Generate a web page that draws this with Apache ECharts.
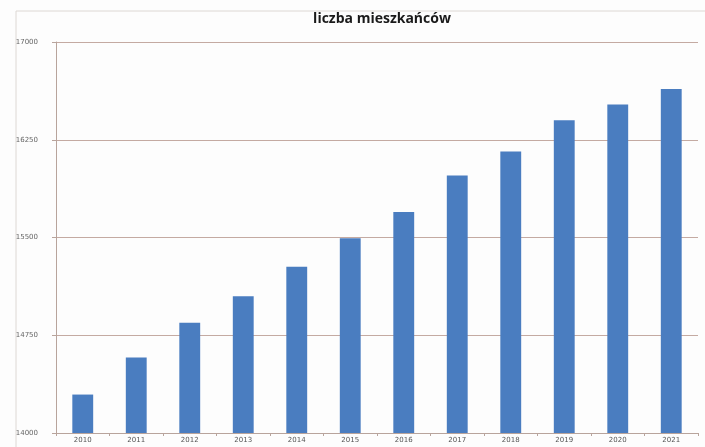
<!DOCTYPE html>
<html><head><meta charset="utf-8">
<script src="https://cdn.jsdelivr.net/npm/echarts@6/dist/echarts.min.js"></script>
<style>html,body{margin:0;padding:0;background:#fff}#c{width:705px;height:447px}</style>
</head><body><div id="c"></div>
<script>
const titleText = 'liczba mieszkańców';
const years = ['2010','2011','2012','2013','2014','2015','2016','2017','2018','2019','2020','2021'];
const residents = [14295, 14580, 14845, 15050, 15275, 15495, 15695, 15975, 16160, 16400, 16520, 16640];
const yMin = 14000, yMax = 17000, yStep = 750;

const chart = echarts.init(document.getElementById('c'));
chart.setOption({
  backgroundColor: '#fdfdfd',
  animation: false,
  title: {
    text: titleText, left: 377, top: 7, textAlign: 'center',
    textStyle: {fontFamily: 'Open Sans', fontWeight: 'bold', fontSize: 14, color: '#1a1a1a'}
  },
  graphic: [{
    type: 'rect', shape: {x: 16, y: 11, width: 700, height: 450},
    style: {fill: 'none', stroke: '#ddd8d4', lineWidth: 1}, silent: true
  }],
  grid: {left: 56, right: 7, top: 42, bottom: 14},
  xAxis: {
    type: 'category', data: years,
    axisLine: {lineStyle: {color: '#b8a49c'}},
    axisTick: {show: true, length: 3, lineStyle: {color: '#b8a49c'}},
    axisLabel: {fontSize: 7, color: '#555', margin: 4, fontFamily: 'DejaVu Sans'}
  },
  yAxis: {
    type: 'value', min: yMin, max: yMax, interval: yStep,
    axisLine: {show: true, lineStyle: {color: '#b8a49c'}},
    axisTick: {show: true, length: 4, lineStyle: {color: '#b8a49c'}},
    splitLine: {lineStyle: {color: '#c4aaa2'}},
    axisLabel: {fontSize: 7, color: '#666', margin: 18, fontFamily: 'DejaVu Sans',
      formatter: v => String(v)}
  },
  series: [{
    type: 'bar', data: residents, barWidth: '39%',
    itemStyle: {color: '#4a7dc0'}
  }]
});
</script></body></html>
